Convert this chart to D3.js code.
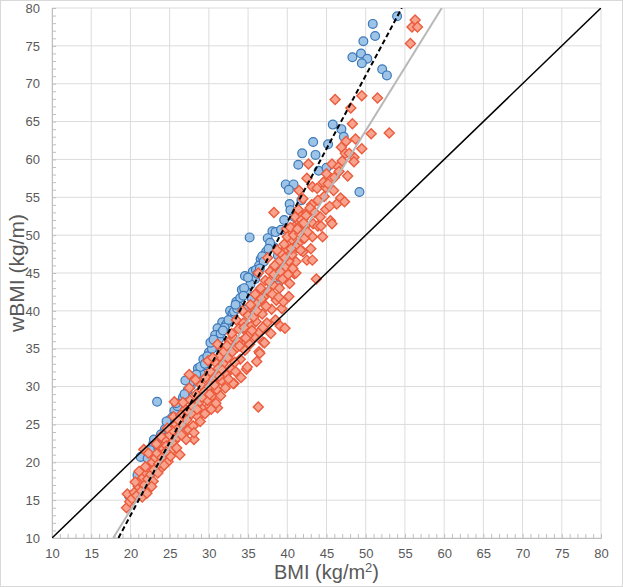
<!DOCTYPE html>
<html>
<head>
<meta charset="utf-8">
<script src="https://cdn.jsdelivr.net/npm/d3@7"></script>
<style>
  body { margin: 0; background: #fff; }
  text { font-family: "Liberation Sans", Arial, sans-serif; }
</style>
</head>
<body>
<div id="chart"></div>
<script>
// axis ticks
const xTicks = [10, 15, 20, 25, 30, 35, 40, 45, 50, 55, 60, 65, 70, 75, 80];
const yTicks = [10, 15, 20, 25, 30, 35, 40, 45, 50, 55, 60, 65, 70, 75, 80];

// blue circles [BMI, wBMI]
const bluePts = [
  [54.0,78.9],[50.9,77.9],[51.2,76.3],[49.7,75.6],[48.3,73.5],[49.4,74.0],[50.2,73.3],[49.5,72.7],[52.1,71.9],[52.7,71.1],
  [45.8,64.6],[46.9,64.0],[47.2,63.0],[43.3,62.3],[45.2,62.0],[41.9,60.8],[43.6,60.6],[41.4,59.3],[44.0,58.5],[45.0,58.9],[49.2,55.7],
  [39.8,56.7],[40.8,56.7],[40.2,56.0],[41.8,54.6],[40.3,54.1],[40.4,53.3],[40.9,52.4],[39.6,52.0],
  [35.2,49.7],[38.1,50.5],[38.5,50.4],[39.2,50.7],[37.5,49.6],[37.3,47.8],[36.6,46.8],[38.3,48.4],[38.8,47.3],
  [34.6,44.6],[35.6,45.2],[36.4,46.0],[35.9,44.2],[35.3,43.5],[34.2,42.8],[34.8,42.5],[33.5,41.2],[33.8,40.6],[32.7,40.0],[33.0,39.6],
  [31.7,38.5],[32.2,38.2],[31.1,37.7],[30.8,36.8],[31.3,36.3],[30.7,35.2],[30.0,34.5],[29.3,33.6],[29.7,32.8],[28.6,32.4],[29.0,31.7],
  [28.2,31.0],[27.7,30.1],[27.3,29.5],[23.4,28.0],[26.7,28.6],[26.3,27.6],[25.6,26.8],[25.0,25.6],[24.4,24.4],[23.9,23.7],[22.9,22.4],
  [21.6,20.8],[21.3,20.7],[22.2,20.5],[20.9,18.3],[19.8,15.6],
  [32.0,37.8],[31.5,37.0],[32.5,38.8],[33.2,39.9],[34.0,41.7],[34.5,43.0],[35.0,44.4],[36.0,45.4],[36.8,47.2],[37.8,49.0],
  [29.8,34.0],[30.4,35.0],[28.9,32.6],[28.0,31.3],[27.6,30.5],[26.9,29.0],[26.0,27.4],[25.4,26.0],[24.8,25.2],[24.1,23.2],
  [22.5,21.6],[30.2,35.8],[33.6,40.3],[36.2,44.9],[37.0,46.5],[38.8,43.4],[38.2,45.6],[39.3,46.0],[34.8,40.2],[35.5,41.6],
  [27.0,30.8],[28.4,31.6],[29.5,33.0],[30.6,36.2],[31.8,37.4],[33.4,40.8],[34.4,42.0],[23.0,23.0],[24.6,25.4],[25.8,27.8],
  [36.5,45.6],[37.6,48.2]
];

// orange diamonds [BMI, wBMI]
const redPts = [
  [56.3,78.4],[55.9,77.5],[56.6,77.5],[55.7,75.3],[49.5,68.4],[51.5,68.1],[46.1,67.9],[48.1,66.8],[48.3,64.7],[50.7,63.4],[53.0,63.5],
  [47.5,62.4],[48.7,62.7],[46.9,61.6],[49.5,61.4],[47.4,60.8],[48.5,60.3],[48.5,59.7],[42.7,59.4],[45.7,59.4],[46.5,59.0],[45.0,58.1],
  [47.7,57.8],[42.5,57.5],[43.2,56.4],[43.8,56.2],[44.9,56.3],[45.9,55.9],[41.5,55.9],[44.7,55.1],[46.8,54.9],[47.3,54.4],[46.3,54.1],
  [43.1,54.0],[44.9,53.4],[38.3,53.0],[41.4,52.8],[42.5,53.0],[42.0,52.1],[45.5,51.9],[45.7,51.5],[43.3,51.5],[43.9,51.2],[44.3,51.2],
  [40.9,51.1],[41.5,51.2],[42.3,51.2],[43.2,49.8],[39.9,50.8],[40.6,49.4],[41.4,48.9],[42.0,47.8],[42.5,46.7],[43.2,46.7],[43.7,44.2],
  [41.1,46.5],[39.8,48.2],[40.9,44.9],[39.5,45.9],[38.9,46.5],[40.2,41.9],[39.3,40.3],[39.1,38.0],[39.7,37.7],[36.9,35.9],[36.4,34.6],
  [36.1,33.3],[34.8,32.3],[33.2,30.4],[36.3,27.3],[27.5,31.6],[25.6,28.0],[28.1,23.0],[29.8,27.2],[31.1,27.2],[24.6,20.5],[23.9,19.2],
  [21.7,21.7],[19.5,14.0],[19.6,15.8],[19.9,14.8],
  [20.2,15.2],[20.5,16.0],[20.8,15.6],[21.0,16.8],[21.2,17.5],[21.4,16.2],[21.6,18.0],[21.8,17.0],[22.0,18.6],[22.2,17.8],[22.4,19.2],
  [22.6,18.4],[22.8,20.0],[21.5,15.4],[22.1,15.9],[22.9,17.5],[23.0,19.0],[23.2,20.6],[21.9,19.4],[22.3,21.2],[20.6,17.4],[21.1,18.8],
  [23.4,21.2],[23.6,19.8],[23.8,22.0],[24.0,20.6],[24.2,21.8],[24.4,23.0],[24.6,22.2],[24.8,20.1],[25.0,23.6],[25.2,21.5],[25.4,24.2],
  [25.6,22.8],[25.8,25.0],[26.0,23.3],[24.3,19.6],[25.1,20.8],[25.9,21.9],[23.9,23.4],[24.7,24.5],[25.5,26.0],[26.2,24.6],[26.4,26.2],
  [26.6,25.0],[26.8,23.8],[27.0,27.0],[27.2,25.6],[27.4,24.3],[27.6,28.2],[27.8,26.4],[28.0,24.8],[28.2,27.6],[28.4,29.0],[28.6,26.0],
  [28.8,28.0],[29.0,30.2],[27.1,23.0],[28.1,23.9],[28.9,25.4],[26.7,27.9],[27.5,29.8],[29.2,27.0],[29.4,29.3],[29.6,31.2],[28.3,30.9],
  [29.8,28.2],[30.0,30.0],[30.2,32.0],[30.4,28.8],[30.6,31.0],[30.8,33.2],[31.0,29.6],[31.2,32.4],[31.4,34.0],[31.6,30.8],[31.8,33.0],
  [32.0,35.0],[30.3,27.0],[30.9,27.8],[31.5,28.8],[32.2,31.6],[32.4,33.8],[32.6,36.0],[29.9,33.4],[31.1,35.6],[32.8,32.4],[32.1,29.8],
  [33.0,34.6],[33.2,36.4],[33.4,32.0],[33.6,35.2],[33.8,37.6],[34.0,33.6],[34.2,36.0],[34.4,38.4],[34.6,34.8],[34.8,37.2],[35.0,39.4],
  [35.2,35.6],[33.1,30.4],[34.1,31.2],[34.9,32.6],[35.4,38.0],[35.6,40.4],[35.8,36.6],[33.5,38.8],[34.3,40.0],[35.9,42.2],[36.0,38.6],
  [36.2,41.0],[36.4,37.2],[36.6,43.0],[36.8,39.6],[37.0,41.8],[37.2,44.0],[37.4,38.4],[37.6,42.6],[37.8,45.2],[38.0,40.2],[38.2,43.4],
  [38.4,46.0],[38.6,41.4],[38.8,44.6],[37.1,35.8],[37.9,37.0],[36.5,34.4],[38.5,38.8],[36.3,45.0],[37.5,47.0],[39.0,43.0],[39.2,47.6],
  [39.4,44.2],[39.6,48.8],[39.8,45.8],[40.0,49.8],[40.2,46.6],[40.4,51.0],[40.6,47.4],[40.8,50.0],[41.0,52.4],[41.2,48.4],[41.4,53.4],
  [41.6,50.2],[39.5,41.2],[40.3,43.6],[41.1,45.0],[41.8,52.0],[42.0,54.8],[42.2,49.6],[42.4,52.6],[38.7,48.0],
  [30.5,33.8],[31.3,31.4],[31.9,34.6],[32.3,35.4],[32.9,37.0],[33.3,33.2],[33.7,36.0],[34.5,37.8],[35.1,36.8],[35.3,40.8],[35.7,39.2],
  [36.1,40.0],[36.7,41.6],[37.3,40.6],[37.7,43.8],[38.1,42.2],[38.3,44.8],[38.9,41.8],[39.1,45.2],[39.7,47.0],[40.1,44.8],[40.5,48.2],
  [40.7,45.6],[41.3,50.8],[41.7,48.0],[42.1,51.6],[42.6,50.4],[42.9,53.6],[43.5,53.0],[43.9,54.6],[44.2,52.4],[44.6,57.0],[45.2,56.8],
  [45.4,53.8],[46.0,57.6],[46.6,58.4],[47.0,59.8],[47.9,60.8],[44.5,49.8],[43.0,48.2],
  [26.1,25.6],[26.5,23.6],[27.3,26.8],[27.9,27.4],[28.5,27.0],[29.1,28.6],[29.5,26.4],[30.1,29.0],[30.7,30.2],[31.7,32.2],[32.5,31.0],
  [33.9,35.4],[34.7,36.4],[35.5,37.4],[36.9,37.8],[22.7,16.8],[23.5,18.6],[24.5,21.4],[23.3,22.4],[25.3,22.6],[26.3,21.0]
];

// reference / fit lines, end points [BMI, wBMI]
const identityLine = [[10, 10], [80, 80]];
const blueFitLine = [[18.47, 10], [54.6, 80]];
const redFitLine = [[17.8, 10], [59.7, 80]];

let W = 623, H = 587;
let margin = {top: 8, right: 22, bottom: 49, left: 52};
let width = W - margin.left - margin.right;
let height = H - margin.top - margin.bottom;

let root = d3.select("#chart")
  .append("svg")
    .attr("width", W)
    .attr("height", H);

// outer frame
root.append("rect")
  .attr("x", 0.5).attr("y", 0.5)
  .attr("width", W - 1).attr("height", H - 1)
  .attr("fill", "#fff")
  .attr("stroke", "#d9d9d9");

let svg = root.append("g")
  .attr("transform", "translate(" + margin.left + "," + margin.top + ")");

let x = d3.scaleLinear().domain([10, 80]).range([0, width]);
let y = d3.scaleLinear().domain([10, 80]).range([height, 0]);

svg.append("defs").append("clipPath").attr("id", "clip")
  .append("rect").attr("width", width).attr("height", height);

// gridlines
svg.append("g")
  .selectAll("line.gx")
  .data(xTicks)
  .enter().append("line")
    .attr("x1", d => x(d)).attr("x2", d => x(d))
    .attr("y1", 0).attr("y2", height)
    .attr("stroke", "#dcdcdc");
svg.append("g")
  .selectAll("line.gy")
  .data(yTicks)
  .enter().append("line")
    .attr("y1", d => y(d)).attr("y2", d => y(d))
    .attr("x1", 0).attr("x2", width)
    .attr("stroke", "#dcdcdc");

// minor ticks (inside)
let xAxisMinor = svg.append("g")
  .attr("transform", "translate(0," + height + ")")
  .call(d3.axisBottom(x).ticks(70).tickSize(-4).tickFormat(""));
let yAxisMinor = svg.append("g")
  .call(d3.axisLeft(y).ticks(70).tickSize(-4).tickFormat(""));
[xAxisMinor, yAxisMinor].forEach(g => {
  g.selectAll("line").attr("stroke", "#bfbfbf");
  g.select(".domain").attr("stroke", "#bfbfbf");
});

// X axis labels
let xAxis = svg.append("g")
  .attr("transform", "translate(0," + height + ")")
  .call(d3.axisBottom(x).tickValues(xTicks).tickSize(0).tickPadding(11));
xAxis.select(".domain").remove();
xAxis.selectAll("text")
  .style("font-size", "13px")
  .attr("fill", "#595959");

// Y axis labels
let yAxis = svg.append("g")
  .call(d3.axisLeft(y).tickValues(yTicks).tickSize(0).tickPadding(12));
yAxis.select(".domain").remove();
yAxis.selectAll("text")
  .style("font-size", "13px")
  .attr("fill", "#595959");

// axis titles
let xTitle = root.append("text")
  .attr("x", margin.left + width / 2)
  .attr("y", 579)
  .attr("text-anchor", "middle")
  .attr("fill", "#595959")
  .style("font-size", "20px");
xTitle.append("tspan").text("BMI (kg/m");
xTitle.append("tspan").text("2").attr("dy", -7).style("font-size", "13px");
xTitle.append("tspan").text(")").attr("dy", 7);

root.append("text")
  .attr("transform", "translate(24," + (margin.top + height / 2) + ")rotate(-90)")
  .attr("text-anchor", "middle")
  .attr("fill", "#595959")
  .style("font-size", "21px")
  .text("wBMI (kg/m)");

let plot = svg.append("g").attr("clip-path", "url(#clip)");

// blue circles
plot.selectAll("circle")
  .data(bluePts)
  .enter().append("circle")
    .attr("cx", d => x(d[0]))
    .attr("cy", d => y(d[1]))
    .attr("r", 4.4)
    .attr("fill", "#9dc3e6")
    .attr("stroke", "#3b78b8")
    .attr("stroke-width", 1.2);

// orange diamonds
plot.selectAll("path.diamond")
  .data(redPts)
  .enter().append("path")
    .attr("class", "diamond")
    .attr("d", "M0,-5L5,0L0,5L-5,0Z")
    .attr("transform", d => "translate(" + x(d[0]) + "," + y(d[1]) + ")")
    .attr("fill", "#f7a38d")
    .attr("stroke", "#ec5b3d")
    .attr("stroke-width", 1.4);

// lines
let line = d3.line().x(d => x(d[0])).y(d => y(d[1]));

plot.append("path")
  .datum(redFitLine)
  .attr("d", line)
  .attr("stroke", "#b8b8b8")
  .attr("stroke-width", 2)
  .attr("fill", "none");

plot.append("path")
  .datum(blueFitLine)
  .attr("d", line)
  .attr("stroke", "#000")
  .attr("stroke-width", 2)
  .attr("stroke-dasharray", "5,3")
  .attr("fill", "none");

plot.append("path")
  .datum(identityLine)
  .attr("d", line)
  .attr("stroke", "#000")
  .attr("stroke-width", 1.5)
  .attr("fill", "none");
</script>
</body>
</html>
